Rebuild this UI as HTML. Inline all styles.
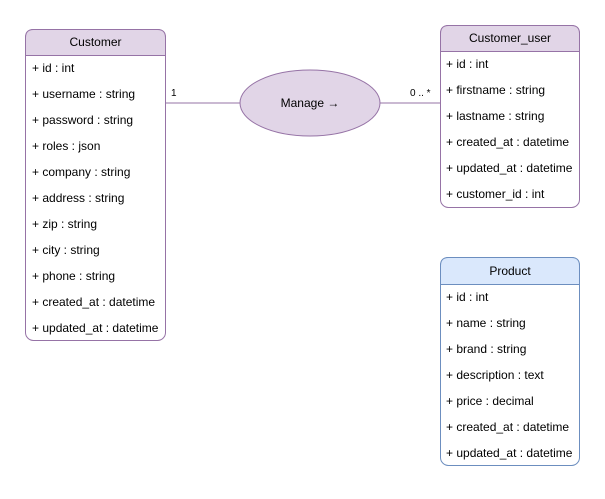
<!DOCTYPE html>
<html><head><meta charset="utf-8"><style>
html,body{margin:0;padding:0;background:#fff;}
text{font-family:"Liberation Sans",Arial,sans-serif;font-size:12px;fill:#000;}
</style></head><body>
<svg width="605" height="494" xmlns="http://www.w3.org/2000/svg">
<rect width="605" height="494" fill="#fff"/>
<!-- connectors -->
<line x1="165" y1="103" x2="240" y2="103" stroke="#9673a6"/>
<line x1="380" y1="103" x2="440" y2="103" stroke="#9673a6"/>
<text x="171" y="96" font-size="10" style="font-size:10px">1</text>
<text x="410" y="96" style="font-size:10px">0 .. *</text>
<ellipse cx="310" cy="103" rx="70" ry="33" fill="#e1d5e7" stroke="#9673a6"/>
<text x="310" y="107" text-anchor="middle">Manage →</text>

<!-- Customer -->
<rect x="25.5" y="29.5" width="140" height="311" rx="8" fill="#fff" stroke="#9673a6"/>
<path d="M25.5 55.5 V37.5 Q25.5 29.5 33.5 29.5 H157.5 Q165.5 29.5 165.5 37.5 V55.5 Z" fill="#e1d5e7" stroke="#9673a6"/>
<text x="95.5" y="46" text-anchor="middle">Customer</text>
<g>
<text x="32" y="72">+ id : int</text>
<text x="32" y="98">+ username : string</text>
<text x="32" y="124">+ password : string</text>
<text x="32" y="150">+ roles : json</text>
<text x="32" y="176">+ company : string</text>
<text x="32" y="202">+ address : string</text>
<text x="32" y="228">+ zip : string</text>
<text x="32" y="254">+ city : string</text>
<text x="32" y="280">+ phone : string</text>
<text x="32" y="306">+ created_at : datetime</text>
<text x="32" y="332">+ updated_at : datetime</text>
</g>

<!-- Customer_user -->
<rect x="440.5" y="25.5" width="139" height="182" rx="8" fill="#fff" stroke="#9673a6"/>
<path d="M440.5 51.5 V33.5 Q440.5 25.5 448.5 25.5 H571.5 Q579.5 25.5 579.5 33.5 V51.5 Z" fill="#e1d5e7" stroke="#9673a6"/>
<text x="510" y="42" text-anchor="middle">Customer_user</text>
<text x="446" y="68">+ id : int</text>
<text x="446" y="94">+ firstname : string</text>
<text x="446" y="120">+ lastname : string</text>
<text x="446" y="146">+ created_at : datetime</text>
<text x="446" y="172">+ updated_at : datetime</text>
<text x="446" y="198">+ customer_id : int</text>

<!-- Product -->
<rect x="440.5" y="257.5" width="139" height="208" rx="8" fill="#fff" stroke="#6c8ebf"/>
<path d="M440.5 284.5 V265.5 Q440.5 257.5 448.5 257.5 H571.5 Q579.5 257.5 579.5 265.5 V284.5 Z" fill="#dae8fc" stroke="#6c8ebf"/>
<text x="510" y="275" text-anchor="middle">Product</text>
<text x="446" y="301">+ id : int</text>
<text x="446" y="327">+ name : string</text>
<text x="446" y="353">+ brand : string</text>
<text x="446" y="379">+ description : text</text>
<text x="446" y="405">+ price : decimal</text>
<text x="446" y="431">+ created_at : datetime</text>
<text x="446" y="457">+ updated_at : datetime</text>
</svg>
</body></html>
